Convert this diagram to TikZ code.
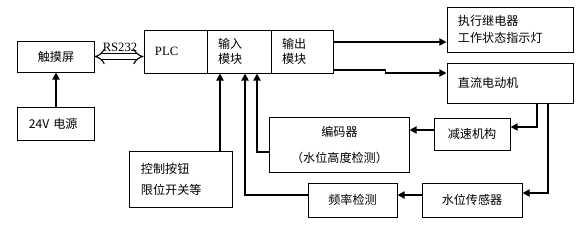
\documentclass[tikz,border=0pt]{standalone}
\usepackage{fontspec}
\setmainfont{Liberation Serif}
\newfontfamily\cjk{Noto Sans CJK SC}
\usetikzlibrary{arrows.meta, calc}
\tikzset{
  every picture/.style={line width=1.2pt},
  box/.style={draw, line width=0.7pt, inner sep=0pt, align=center, font=\cjk\fontsize{8.6}{12}\selectfont},
  lbox/.style={box, align=left, inner xsep=0.275cm},
  arrow/.style={-{Triangle[length=5pt, width=5pt]}, line width=1.2pt},
  dblarrow/.style={{Implies}-{Implies}, double, double distance=3pt, line width=0.8pt},
  lbl/.style={font=\fontsize{9}{10}\selectfont, inner sep=0pt},
}

\begin{document}
\begin{tikzpicture}[x=0.025cm, y=-0.025cm]
  \useasboundingbox (0,0) rectangle (582,225);
  % left side
  \node[box, minimum width=1.9cm, minimum height=0.775cm] (touch) at (56,56.5) {触摸屏};
  \node[lbox, text width=1.35cm, minimum height=0.825cm] (power) at (56,123.5) {24V 电源};
  % PLC with its modules
  \node[lbox, text width=1.025cm, minimum height=1.075cm, font=\fontsize{9}{10}\selectfont] (plc) at (175.5,51.5) {PLC};
  \node[lbox, text width=1.05cm, minimum height=1.075cm, font=\cjk\fontsize{8.6}{10.7}\selectfont] (inmod) at (239,51.5) {输入\\模块};
  \node[lbox, text width=1.0cm, minimum height=1.075cm, font=\cjk\fontsize{8.6}{10.7}\selectfont] (outmod) at (302,51.5) {输出\\模块};
  % right side
  \node[lbox, text width=2.6cm, minimum height=1.125cm] (relay) at (510,29.5) {执行继电器\\工作状态指示灯};
  \node[lbox, text width=2.6cm, minimum height=1.0cm] (motor) at (510,83) {直流电动机};
  \node[box, minimum width=1.9cm, minimum height=0.8cm] (reducer) at (472,134) {减速机构};
  \node[box, minimum width=3.475cm, minimum height=1.375cm, font=\cjk\fontsize{8.6}{18.5}\selectfont] (encoder) at (339.5,144.5) {编码器\\（水位高度检测）};
  \node[box, minimum width=2.5cm, minimum height=0.85cm] (sensor) at (472,200) {水位传感器};
  \node[box, minimum width=2.225cm, minimum height=0.85cm] (freq) at (352.5,200) {频率检测};
  \node[lbox, text width=2.0cm, minimum height=1.4cm, font=\cjk\fontsize{8.6}{15}\selectfont] (ctrl) at (181,179) {控制按钮\\限位开关等};

  % connectors
  \draw[arrow] (power) -- (touch);
  \draw[dblarrow] (touch.east) -- (touch.east -| plc.west);
  \node[lbl] (rs) at (120,47) {RS232};
  \coordinate (o1) at ($(outmod.east)+(0,-9.5)$);
  \draw[arrow] (o1) -- (o1 -| relay.west);
  \coordinate (o2) at ($(outmod.east)+(0,18.5)$);
  \coordinate (m1) at ($(motor.west)+(0,-10)$);
  \draw[arrow] (o2) -- ++(52,0) |- (m1);
  \coordinate (mo1) at ($(motor.south)+(27,0)$);
  \coordinate (r1) at ($(reducer.east)+(0,-7)$);
  \draw[arrow] (mo1) |- (r1);
  \coordinate (mo2) at ($(motor.south)+(38,0)$);
  \coordinate (s1) at ($(sensor.east)+(0,-7)$);
  \draw[arrow] (mo2) |- (s1);
  \coordinate (r2) at ($(reducer.west)+(0,-4)$);
  \draw[arrow] (r2) -- (r2 -| encoder.east);
  \coordinate (s2) at ($(sensor.west)+(0,-5)$);
  \draw[arrow] (s2) -- (s2 -| freq.east);
  \coordinate (f1) at ($(freq.west)+(0,-5)$);
  \draw[arrow] (f1) -| ($(inmod.south)+(6,0)$);
  \coordinate (e1) at ($(encoder.west)+(0,7.5)$);
  \draw[arrow] (e1) -| ($(inmod.south)+(18,0)$);
  \draw[arrow] ($(ctrl.north)+(39,0)$) -- ($(inmod.south)+(-19,0)$);
\end{tikzpicture}
\end{document}
